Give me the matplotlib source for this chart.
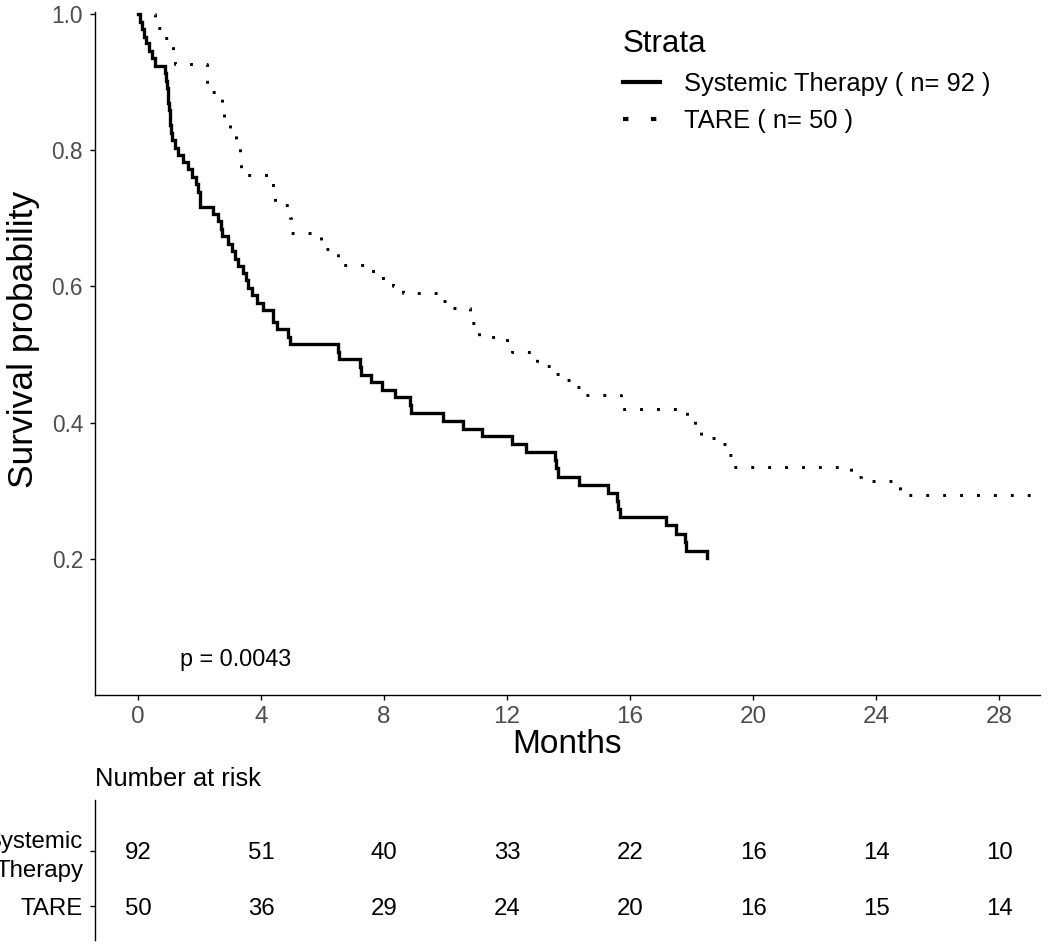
import matplotlib
matplotlib.use("Agg")
import matplotlib.pyplot as plt
from matplotlib.lines import Line2D

plt.rcParams['font.family'] = ['Liberation Sans', 'DejaVu Sans']

# ---- data ----
systemic_time = [0, 0.07, 0.13, 0.2, 0.27, 0.35, 0.45, 0.55,
                 0.87, 0.90, 0.93, 0.96, 0.99, 1.01, 1.03, 1.05, 1.07, 1.10,
                 1.20, 1.31, 1.47, 1.64, 1.75, 1.89, 1.95, 2.00, 2.02,
                 2.45, 2.60, 2.70, 2.72, 2.94, 3.05, 3.15, 3.26, 3.42, 3.50,
                 3.59, 3.70, 3.86, 4.07, 4.40, 4.51, 4.89, 4.94,
                 6.49, 6.52, 7.22, 7.25, 7.58, 7.92, 8.34, 8.85, 8.88, 9.93,
                 10.58, 11.20, 12.17, 12.62, 13.56, 13.60, 13.65, 14.34, 15.29,
                 15.57, 15.62, 15.67, 17.16, 17.50, 17.80, 17.82, 18.50]
systemic_surv = [1.0, 0.989, 0.978, 0.967, 0.957, 0.946, 0.935, 0.924,
                 0.913, 0.902, 0.891, 0.880, 0.870, 0.859, 0.848, 0.837, 0.826, 0.815,
                 0.804, 0.793, 0.783, 0.772, 0.761, 0.750, 0.739, 0.728, 0.717,
                 0.707, 0.696, 0.685, 0.674, 0.663, 0.652, 0.641, 0.630, 0.619, 0.609,
                 0.598, 0.587, 0.576, 0.565, 0.548, 0.537, 0.526, 0.515,
                 0.504, 0.493, 0.482, 0.470, 0.459, 0.448, 0.437, 0.426, 0.414, 0.403,
                 0.391, 0.380, 0.369, 0.357, 0.345, 0.333, 0.320, 0.308, 0.297,
                 0.285, 0.273, 0.261, 0.249, 0.236, 0.224, 0.212, 0.201]

tare_time = [0, 0.55, 0.80, 1.13, 1.20, 2.25, 2.72, 2.80, 3.00, 3.19, 3.32, 3.36,
             4.38, 4.45, 4.94, 4.97, 5.95, 6.50, 7.63, 8.30, 8.60, 9.90, 10.10,
             10.80, 10.95, 11.10, 12.00, 12.15, 12.97, 13.60, 13.90, 14.20, 14.45,
             15.70, 17.85, 18.10, 18.30, 18.95, 19.20, 19.35, 23.20, 23.50, 24.78,
             29.40]
tare_surv = [1.0, 0.98, 0.965, 0.947, 0.927, 0.886, 0.864, 0.844, 0.826, 0.81, 0.79, 0.764,
             0.738, 0.720, 0.700, 0.678, 0.655, 0.632, 0.612, 0.600, 0.590, 0.578, 0.568,
             0.547, 0.534, 0.526, 0.510, 0.504, 0.483, 0.472, 0.462, 0.452, 0.441,
             0.420, 0.407, 0.396, 0.377, 0.369, 0.353, 0.335, 0.320, 0.314, 0.293,
             0.293]

legend_labels = ["Systemic Therapy ( n= 92 )", "TARE ( n= 50 )"]
x_ticks = [0, 4, 8, 12, 16, 20, 24, 28]
y_ticks = [0.2, 0.4, 0.6, 0.8, 1.0]
risk_times = [0, 4, 8, 12, 16, 20, 24, 28]
risk_systemic = [92, 51, 40, 33, 22, 16, 14, 10]
risk_tare = [50, 36, 29, 24, 20, 16, 15, 14]
risk_rows = ["Systemic\nTherapy", "TARE"]
p_text = "p = 0.0043"

W, H = 1050, 947
fig = plt.figure(figsize=(W / 100, H / 100), dpi=100)

grey = '#4D4D4D'
ax = fig.add_axes([95 / W, 1 - 695 / H, 945 / W, 683 / H])
ax.step(systemic_time, systemic_surv, where='post', color='black', lw=2.4,
        solid_joinstyle='miter')
ax.step(tare_time, tare_surv, where='post', color='black', lw=2.1,
        linestyle=(0, (1, 4.8)), dash_capstyle='butt')
ax.set_xlim(-1.4, 29.33)
ax.set_ylim(0, 1.003)
ax.set_xticks(x_ticks)
ax.set_yticks(y_ticks)
ax.set_yticklabels([f"{v:.1f}" for v in y_ticks])
for s in ['top', 'right']:
    ax.spines[s].set_visible(False)
for s in ['left', 'bottom']:
    ax.spines[s].set_linewidth(1.0)
ax.tick_params(axis='both', length=3.6, width=1.0, color='black', pad=5)
ax.tick_params(axis='x', labelsize=17.5, labelcolor=grey, pad=4)
ax.tick_params(axis='y', labelsize=16.3, labelcolor=grey)
ax.set_xlabel("Months", fontsize=24, labelpad=1)
ax.set_ylabel("Survival probability", fontsize=25.5)
ax.yaxis.set_label_coords(-0.058, 0.52)
ax.text(1.37, 0.052, p_text, fontsize=16.8, va='center', ha='left')

handles = [Line2D([], [], color='black', lw=3.0),
           Line2D([], [], color='black', lw=3.0, linestyle=(0, (1.3, 5.4)),
                  dash_capstyle='butt')]
leg = ax.legend(handles, legend_labels, title="Strata", frameon=False,
                loc='upper left', bbox_to_anchor=(623 / W, 1 - 29 / H),
                bbox_transform=fig.transFigure, fontsize=18.4,
                title_fontsize=22.5, handlelength=1.45, handletextpad=0.95,
                labelspacing=0.5, borderpad=0, borderaxespad=0,
                alignment='left')

# ---- risk table ----
rax = fig.add_axes([95 / W, 1 - 940 / H, 945 / W, 140 / H])
rax.set_xlim(-1.4, 29.33)
rax.set_ylim(0.382, 2.927)
for t, a, b in zip(risk_times, risk_systemic, risk_tare):
    rax.text(t, 2, str(a), ha='center', va='center_baseline', fontsize=17.3)
    rax.text(t, 1, str(b), ha='center', va='center_baseline', fontsize=17.3)
rax.set_yticks([2, 1])
rax.set_yticklabels(risk_rows, fontsize=17.3, ha='right')
for lbl in rax.get_yticklabels():
    lbl.set_linespacing(1.4)
rax.set_xticks([])
for s in ['top', 'right', 'bottom']:
    rax.spines[s].set_visible(False)
rax.spines['left'].set_linewidth(1.0)
rax.tick_params(axis='y', length=3.6, width=1.0, pad=5)
fig.text(95 / W, 1 - 779 / H, "Number at risk", fontsize=18.4, va='center', ha='left')

fig.savefig("out.png", dpi=100)
